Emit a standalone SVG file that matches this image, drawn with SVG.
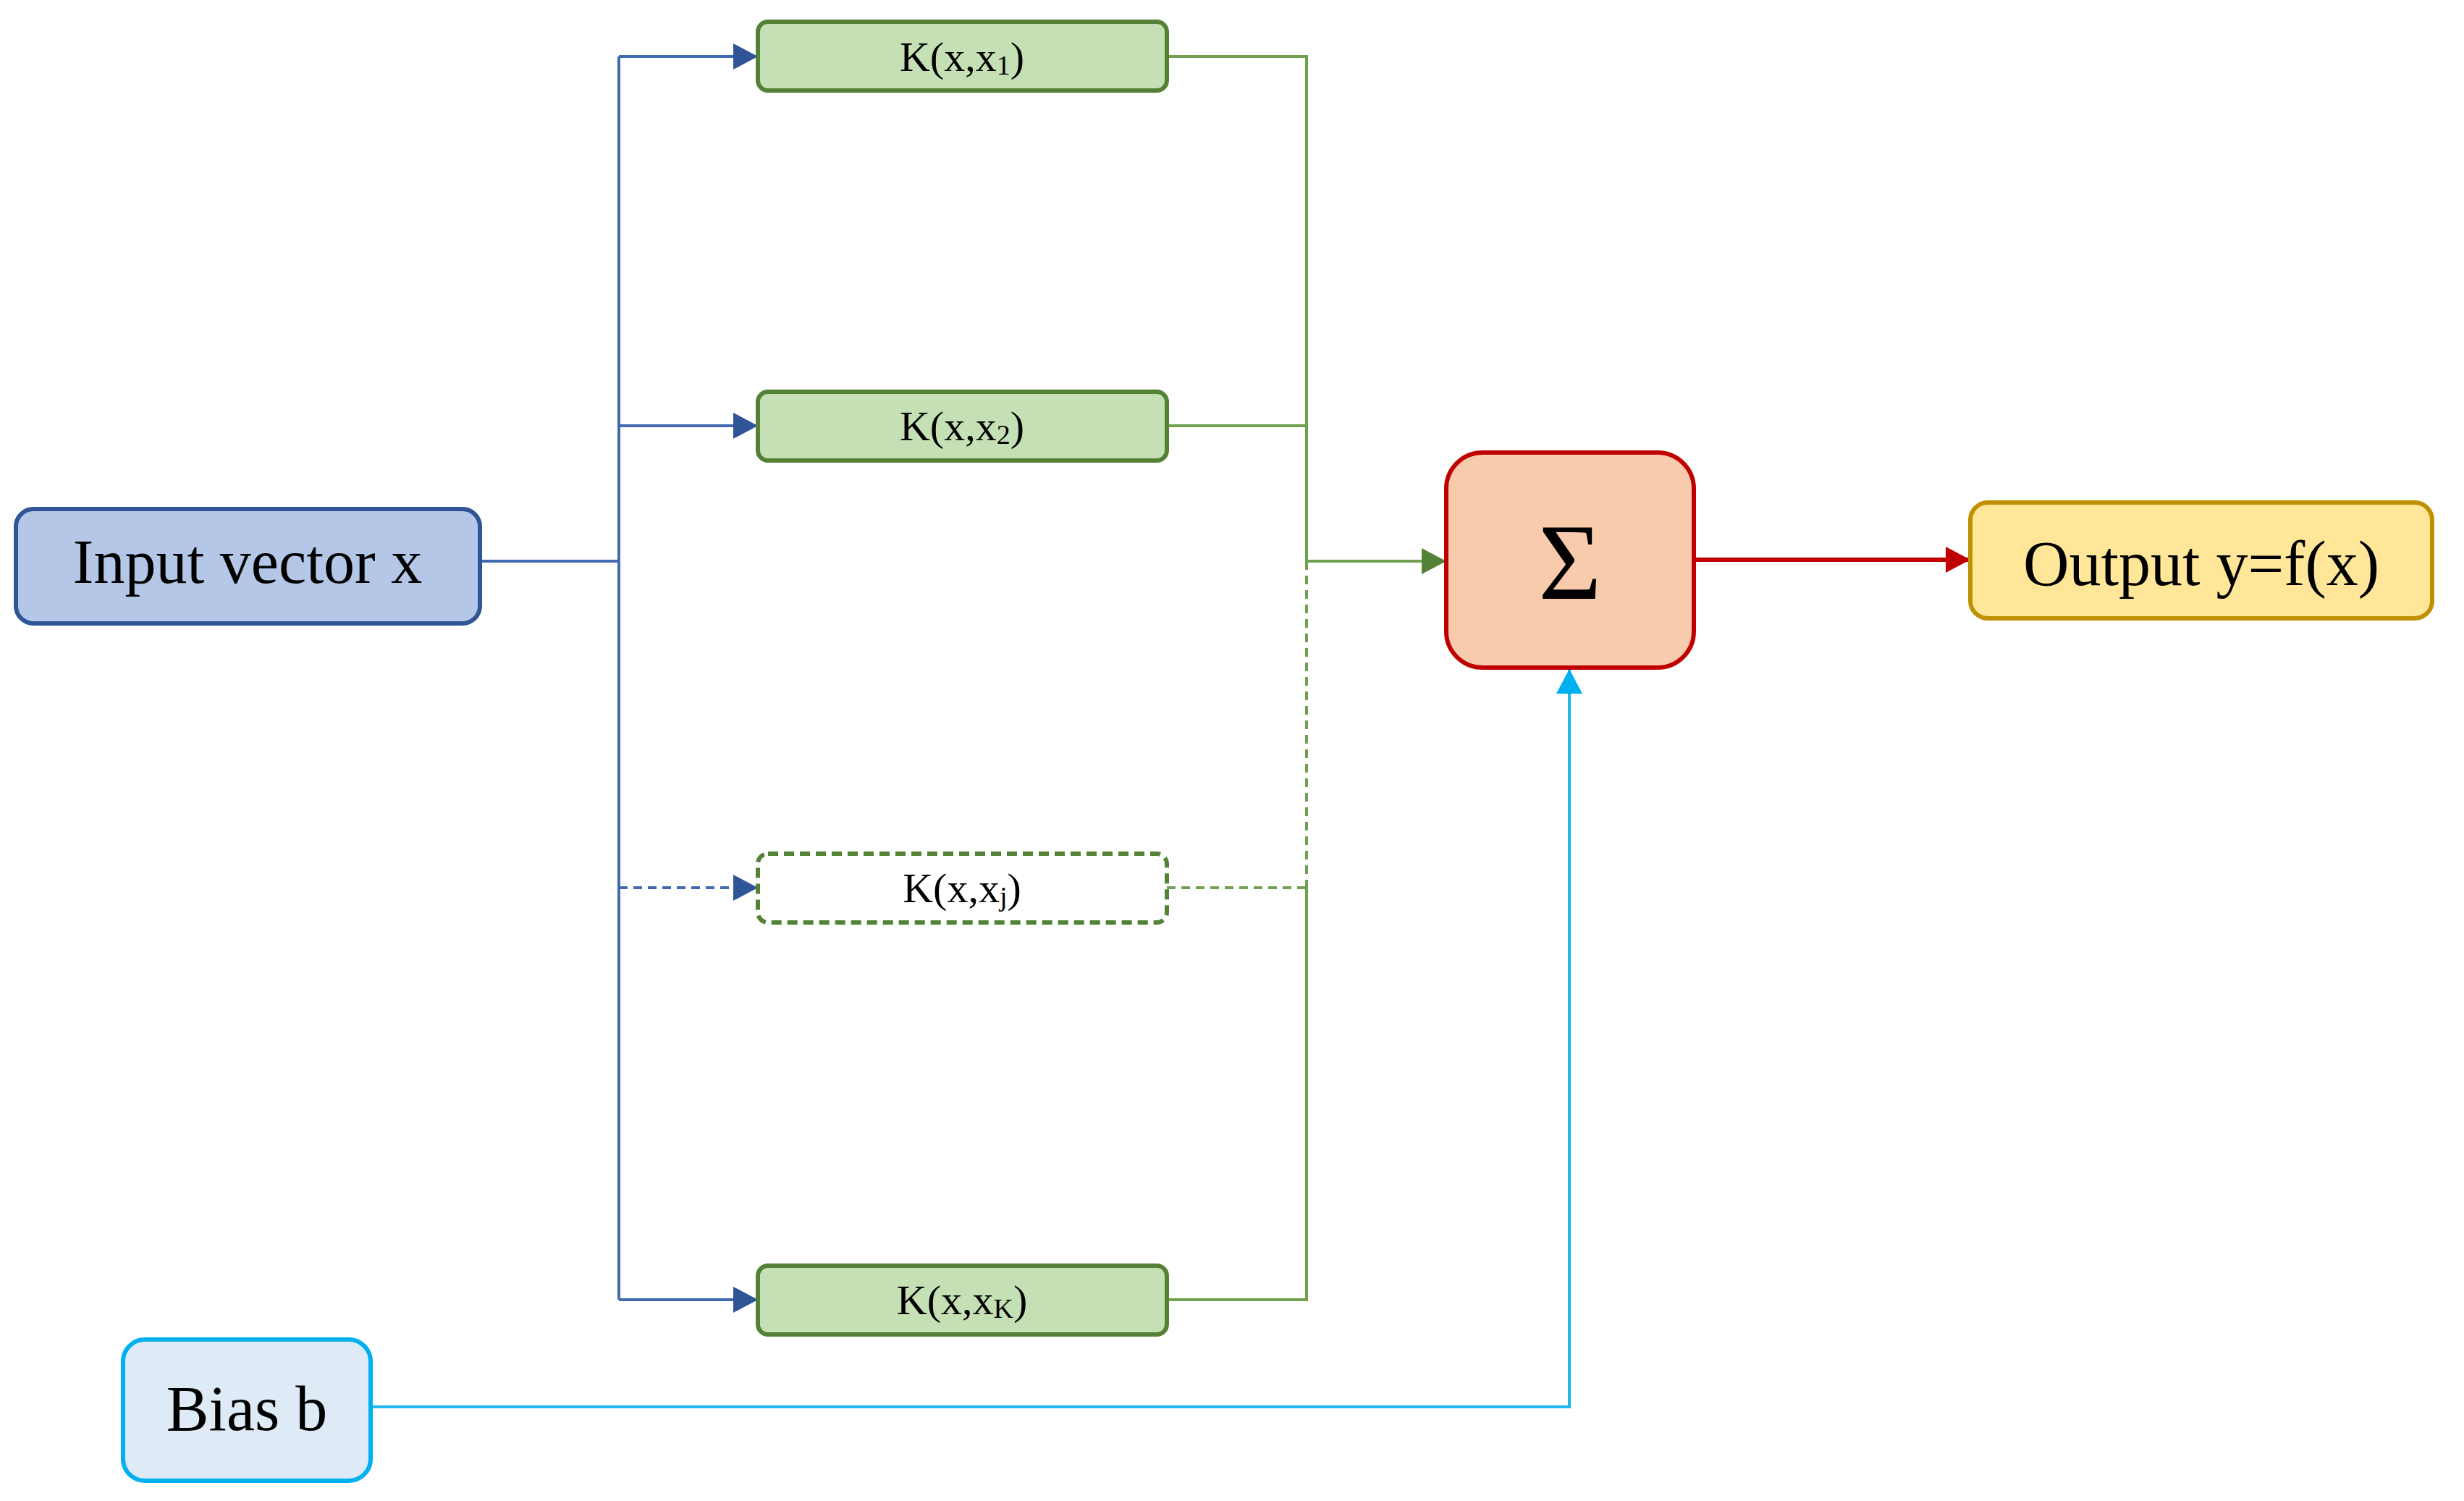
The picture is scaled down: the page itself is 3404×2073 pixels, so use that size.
<svg xmlns="http://www.w3.org/2000/svg" width="3404" height="2073" viewBox="0 0 3404 2073">
<style>
text{font-family:"Liberation Serif","Times New Roman",serif;fill:#000;text-anchor:middle;dominant-baseline:central}
.k rect{fill:#C5E0B4;stroke:#538135;stroke-width:6}
.k text{font-size:58px}
.blue{stroke:#4169B0;stroke-width:4;fill:none}
.green{stroke:#70A050;stroke-width:4;fill:none}
.dash{stroke-dasharray:12 8}
</style>
<defs>
<marker id="ab" markerUnits="userSpaceOnUse" markerWidth="36" markerHeight="36" refX="34" refY="18" orient="auto"><path d="M0,0 L34,18 L0,36 Z" fill="#2F5597"/></marker>
<marker id="ag" markerUnits="userSpaceOnUse" markerWidth="36" markerHeight="36" refX="34" refY="18" orient="auto"><path d="M0,0 L34,18 L0,36 Z" fill="#538135"/></marker>
<marker id="ar" markerUnits="userSpaceOnUse" markerWidth="36" markerHeight="36" refX="34" refY="18" orient="auto"><path d="M0,0 L34,18 L0,36 Z" fill="#C00000"/></marker>
<marker id="ac" markerUnits="userSpaceOnUse" markerWidth="36" markerHeight="36" refX="34" refY="18" orient="auto"><path d="M0,0 L34,18 L0,36 Z" fill="#00B0F0"/></marker>
</defs>
<g id="connectors">
<path class="blue" d="M663,775 H855"/>
<path class="blue" d="M855,78 V1795"/>
<path class="blue" d="M855,78 H1047" marker-end="url(#ab)"/>
<path class="blue" d="M855,588 H1047" marker-end="url(#ab)"/>
<path class="blue dash" d="M855,1226 H1047" marker-end="url(#ab)"/>
<path class="blue" d="M855,1795 H1047" marker-end="url(#ab)"/>
<path class="green" d="M1612,78 H1805 V775"/>
<path class="green" d="M1612,588 H1805"/>
<path class="green dash" d="M1805,775 V1226"/>
<path class="green" d="M1805,1226 V1795 H1612"/>
<path class="green dash" d="M1612,1226 H1805"/>
<path class="green" d="M1805,775 H1998" marker-end="url(#ag)"/>
<path d="M2340,773 H2722" stroke="#C00000" stroke-width="6" fill="none" marker-end="url(#ar)"/>
<path d="M512,1943 H2168 V924" stroke="#1EB8F0" stroke-width="4" fill="none" marker-end="url(#ac)"/>
</g>
<g id="input"><rect x="22" y="703" width="641" height="158" rx="24" fill="#B4C7E7" stroke="#2F5597" stroke-width="6"/><text x="342" y="776" font-size="86">Input vector x</text></g>
<g id="k1" class="k"><rect x="1047" y="30" width="565" height="95" rx="14"/><text x="1329" y="78">K(x,x<tspan font-size="38" dy="12">1</tspan><tspan dy="-12">)</tspan></text></g>
<g id="k2" class="k"><rect x="1047" y="541" width="565" height="95" rx="14"/><text x="1329" y="588">K(x,x<tspan font-size="38" dy="12">2</tspan><tspan dy="-12">)</tspan></text></g>
<g id="kj" class="k"><rect x="1047" y="1179" width="565" height="95" rx="14" style="fill:#fff" stroke-dasharray="14 8"/><text x="1329" y="1226">K(x,x<tspan font-size="38" dy="12">j</tspan><tspan dy="-12">)</tspan></text></g>
<g id="kK" class="k"><rect x="1047" y="1748" width="565" height="95" rx="14"/><text x="1329" y="1795">K(x,x<tspan font-size="38" dy="12">K</tspan><tspan dy="-12">)</tspan></text></g>
<g id="sum"><rect x="1998" y="625" width="342" height="297" rx="50" fill="#F8CBAD" stroke="#C00000" stroke-width="6"/><text x="2169" y="776" font-size="150">Σ</text></g>
<g id="output"><rect x="2722" y="694" width="638" height="160" rx="24" fill="#FFE699" stroke="#BF9000" stroke-width="6"/><text x="3041" y="778" font-size="88">Output y=f(x)</text></g>
<g id="bias"><rect x="170" y="1850" width="342" height="195" rx="30" fill="#DEEBF7" stroke="#00B0F0" stroke-width="6"/><text x="341" y="1945" font-size="88">Bias b</text></g>
</svg>
